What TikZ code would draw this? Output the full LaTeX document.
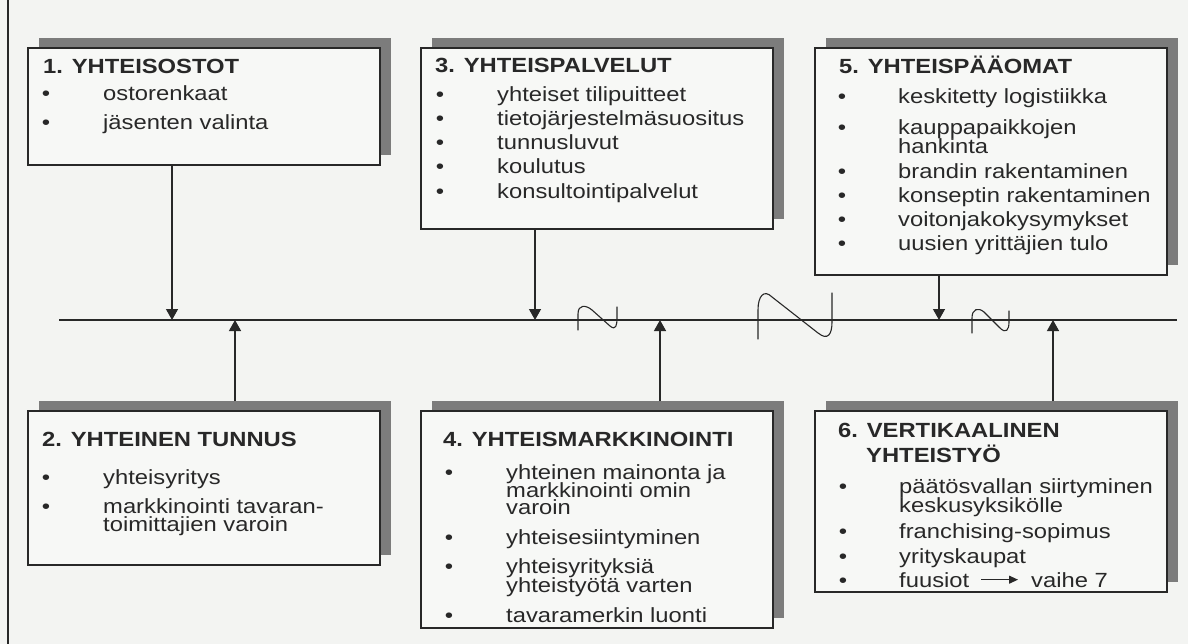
\documentclass[tikz,border=0pt]{standalone}
\usepackage{fontspec}
\setmainfont{Liberation Sans}[FakeStretch=1.16]
\usetikzlibrary{arrows.meta}
\definecolor{bgc}{RGB}{243,244,242}
\definecolor{boxc}{RGB}{247,248,246}
\definecolor{shadc}{RGB}{124,124,124}
\definecolor{inkc}{RGB}{40,40,40}
\definecolor{linec}{RGB}{40,40,40}
\tikzset{
 panelbox/.style={draw=linec, line width=1.4pt, fill=boxc, inner sep=0pt, outer sep=0pt},
 shadowbox/.style={fill=shadc, draw=none, inner sep=0pt, outer sep=0pt},
 bodytxt/.style={anchor=base west, inner sep=0pt, text=inkc, font=\fontsize{20.5}{20.5}\selectfont},
 titletxt/.style={anchor=base west, inner sep=0pt, text=inkc, font=\fontsize{20.5}{20.5}\selectfont\bfseries},
 bulletdot/.style={anchor=base, inner sep=0pt, text=inkc, font=\fontsize{20.5}{20.5}\selectfont},
 conn/.style={draw=linec, line width=1.3pt},
 arr/.style={conn, -{Triangle[length=11pt,width=12pt]}},
 smallarr/.style={draw=linec, line width=1.1pt, -{Triangle[length=9pt,width=8pt]}},
 squig/.style={draw=linec, line width=1.1pt, line cap=round, line join=round},
}
% name, x1, y1, x2, y2
\newcommand\panelpair[5]{%
 \node[shadowbox, minimum width={(#4-#2)*1pt}, minimum height={(#5-#3)*1pt}] (#1s) at ({(#2+#4)/2+11},{(#3+#5)/2-10}) {};
 \node[panelbox, minimum width={(#4-#2)*1pt}, minimum height={(#5-#3)*1pt}] (#1) at ({(#2+#4)/2},{(#3+#5)/2}) {};
}
% name, bullet x, text x, baseline y, text
\newcommand\bitem[5]{%
 \node[bulletdot] (#1d) at (#2,#4) {•};
 \node[bodytxt] (#1) at (#3,#4) {#5};
}
% name, x, baseline y, text
\newcommand\contl[4]{\node[bodytxt] (#1) at (#2,#3) {#4};}
\begin{document}
\begin{tikzpicture}[x=1pt,y=-1pt]
\useasboundingbox (0,0) rectangle (1188,644);
\fill[bgc] (0,0) rectangle (1188,644);
% left frame line
\coordinate (ftop) at (8,0);
\coordinate (fbot) at (8,644);
\draw[conn, line width=1.5pt] (ftop) -- (fbot);
% panels
\panelpair{b1}{28}{48}{380}{165}
\panelpair{b2}{28}{411}{380}{565}
\panelpair{b3}{421}{48}{773}{229}
\panelpair{b4}{421}{411}{773}{628}
\panelpair{b5}{815}{48}{1167}{275}
\panelpair{b6}{815}{411}{1167}{592}
% main line and junctions
\coordinate (L) at (59,320);
\coordinate (R) at (1177,320);
\coordinate (j1) at (172,320);
\coordinate (j2) at (235,320);
\coordinate (j3) at (535,320);
\coordinate (j4) at (660,320);
\coordinate (j5) at (939,320);
\coordinate (j6) at (1053,320);
\draw[conn] (L) -- (R);
\draw[arr] (b1.south -| j1) -- (j1);
\draw[arr] (b2s.north -| j2) -- (j2);
\draw[arr] (b3.south -| j3) -- (j3);
\draw[arr] (b4s.north -| j4) -- (j4);
\draw[arr] (b5.south -| j5) -- (j5);
\draw[arr] (b6s.north -| j6) -- (j6);
% squiggles
\draw[squig] (578,330) -- (578,314) .. controls (578,304) and (586,305) .. (592,310) -- (610,326) .. controls (616,331) and (617,325) .. (617,318) -- (617,307);
\draw[squig] (758,339) -- (758,310) .. controls (758,296) and (764,289) .. (772,297) -- (818,333) .. controls (828,341) and (832,334) .. (832,322) -- (832,293);
\draw[squig] (972,333) -- (972,318) .. controls (972,309) and (978,307) .. (984,312) -- (1000,328) .. controls (1006,334) and (1009,330) .. (1009,322) -- (1009,311);
% box 1
\node[titletxt] (t1) at (43,74) {1. YHTEISOSTOT};
\bitem{i1a}{46}{103}{101}{ostorenkaat}
\bitem{i1b}{46}{103}{130}{jäsenten valinta}
% box 2
\node[titletxt] (t2) at (42,446) {2. YHTEINEN TUNNUS};
\bitem{i2a}{46}{103}{484}{yhteisyritys}
\bitem{i2b}{46}{103}{513}{markkinointi tavaran-}
\contl{i2c}{103}{531}{toimittajien varoin}
% box 3
\node[titletxt] (t3) at (435,73) {3. YHTEISPALVELUT};
\bitem{i3a}{440}{497}{101.5}{yhteiset tilipuitteet}
\bitem{i3b}{440}{497}{125.5}{tietojärjestelmäsuositus}
\bitem{i3c}{440}{497}{149.5}{tunnusluvut}
\bitem{i3d}{440}{497}{174}{koulutus}
\bitem{i3e}{440}{497}{198.5}{konsultointipalvelut}
% box 4
\node[titletxt] (t4) at (443,446) {4. YHTEISMARKKINOINTI};
\bitem{i4a}{449}{506}{479}{yhteinen mainonta ja}
\contl{i4b}{506}{497}{markkinointi omin}
\contl{i4c}{506}{514.5}{varoin}
\bitem{i4d}{449}{506}{544}{yhteisesiintyminen}
\bitem{i4e}{449}{506}{573}{yhteisyrityksiä}
\contl{i4f}{506}{592}{yhteistyötä varten}
\bitem{i4g}{449}{506}{622}{tavaramerkin luonti}
% box 5
\node[titletxt] (t5) at (839,74) {5. YHTEISPÄÄOMAT};
\bitem{i5a}{842}{898}{104}{keskitetty logistiikka}
\bitem{i5b}{842}{898}{135}{kauppapaikkojen}
\contl{i5c}{898}{154}{hankinta}
\bitem{i5d}{842}{898}{179}{brandin rakentaminen}
\bitem{i5e}{842}{898}{203}{konseptin rakentaminen}
\bitem{i5f}{842}{898}{227}{voitonjakokysymykset}
\bitem{i5g}{842}{898}{251}{uusien yrittäjien tulo}
% box 6
\node[titletxt] (t6) at (838,437) {6. VERTIKAALINEN};
\node[titletxt] (t6b) at (866,462) {YHTEISTYÖ};
\bitem{i6a}{843}{899}{493}{päätösvallan siirtyminen}
\contl{i6b}{899}{512}{keskusyksikölle}
\bitem{i6c}{843}{899}{538}{franchising-sopimus}
\bitem{i6d}{843}{899}{563}{yrityskaupat}
\bitem{i6e}{843}{899}{587}{fuusiot}
\contl{i6f}{1031}{587}{vaihe 7}
\draw[smallarr, shorten <=12pt, shorten >=13pt] (i6e.east) -- (i6f.west);
\end{tikzpicture}
\end{document}
